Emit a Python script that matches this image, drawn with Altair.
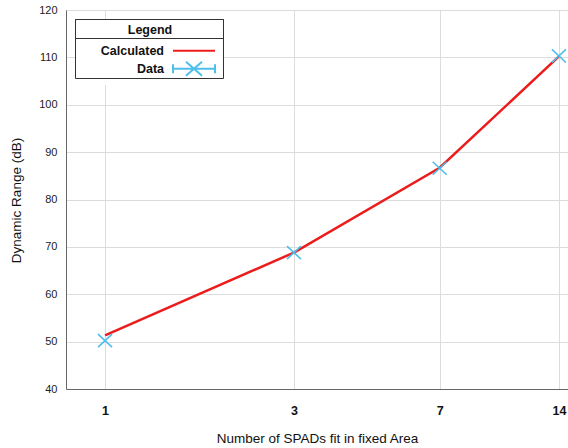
import altair as alt
import pandas as pd

# ---- data ----
spads = [1, 3, 7, 14]
calculated = [51.3, 68.8, 86.7, 110.2]
measured = [50.2, 68.8, 86.6, 110.3]
series_names = ["Calculated", "Data"]
x_ticks = [1, 3, 7, 14]
y_ticks = [40, 50, 60, 70, 80, 90, 100, 110, 120]

RED = "#ec1c1c"
BLUE = "#4dbeee"
FONT = "Liberation Sans"

calc_df = pd.DataFrame({"spads": spads, "dr": calculated, "series": "Calculated"})
data_df = pd.DataFrame({"spads": spads, "dr": measured, "series": "Data"})
both_df = pd.concat([calc_df, data_df], ignore_index=True)

x_enc = alt.X(
    "spads:Q",
    scale=alt.Scale(type="log", domain=[0.797, 14.76], nice=False),
    axis=alt.Axis(
        values=x_ticks, format="d", title="Number of SPADs fit in fixed Area",
        labelFontSize=12.5, labelFontWeight="bold", labelFont=FONT, labelColor="#111",
        labelPadding=15, labelFlush=False, tickSize=0,
        grid=True, gridColor="#dcdcdc", domainColor="#666",
        titleFont=FONT, titleFontSize=13.5, titleFontWeight="normal", titleColor="#111",
        titleY=49, titleBaseline="middle",
    ),
)
y_enc = alt.Y(
    "dr:Q",
    scale=alt.Scale(domain=[40, 120], nice=False, zero=False),
    axis=alt.Axis(
        values=y_ticks, title="Dynamic Range (dB)",
        labelFontSize=11, labelFont=FONT, labelColor="#222", labelPadding=9, tickSize=0,
        grid=True, gridColor="#dcdcdc", domainColor="#666",
        titleFont=FONT, titleFontSize=13.5, titleFontWeight="normal", titleColor="#111",
        titleX=-50, titleY=190, titleAngle=270, titleBaseline="middle", titleAlign="center",
    ),
)

line = alt.Chart(calc_df).mark_line(color=RED, strokeWidth=2.5).encode(x=x_enc, y=y_enc)

XPATH = "M-1,-0.93L1,0.93M-1,0.93L1,-0.93"
points = alt.Chart(data_df).mark_point(
    shape=XPATH, size=196, filled=False, color=BLUE, strokeWidth=1.6, opacity=1
).encode(x=x_enc, y=y_enc)

# legend symbols (path units are pixels since symbolSize = 4)
LINE_SYM = "M86.75,0L128.75,0"
ERR_SYM = ("M86.75,0L128.75,0M86.75,-4.5L86.75,4.5M128.75,-4.5L128.75,4.5"
           "M99.75,-7L115.75,7M99.75,7L115.75,-7")

main_legend = alt.Legend(
    title="Legend", orient="none", legendX=9, legendY=9, direction="vertical",
    fillColor="white", padding=5,
    titleAnchor="middle", titleFont=FONT, titleFontSize=12.5, titleFontWeight="bold",
    titleColor="#111", titlePadding=8,
    labelFont=FONT, labelFontSize=12.5, labelFontWeight="bold", labelColor="#111",
    labelAlign="right", labelOffset=71.5,
    symbolSize=4, symbolStrokeWidth=2, symbolOffset=0, rowPadding=0,
)


def box_legend(key, w, h):
    # an empty legend whose invisible symbol spans w x h pixels: only its frame shows
    return alt.Legend(
        title=None, values=[key], orient="none", legendX=9, legendY=9,
        strokeColor="#333", padding=0, labelExpr="''", labelFontSize=1, labelOffset=0,
        symbolType=f"M-1,-1L{w - 1},{h - 1}", symbolSize=4, symbolStrokeWidth=0,
        symbolOpacity=0, symbolFillColor="transparent", symbolStrokeColor="transparent",
        symbolOffset=0,
    )


frame_legend = box_legend("frame", 148, 59)   # outer frame of the legend
sep_legend = box_legend("sep", 148, 19)       # box round the title: the line under "Legend"

legend_layer = alt.Chart(both_df).transform_filter("false").mark_point(
    filled=False, size=4, opacity=1
).encode(
    x=x_enc, y=y_enc,
    color=alt.Color("series:N", scale=alt.Scale(domain=series_names, range=[RED, BLUE]), legend=main_legend),
    shape=alt.Shape("series:N", scale=alt.Scale(domain=series_names, range=[LINE_SYM, ERR_SYM]), legend=main_legend),
    opacity=alt.Opacity("series:O", scale=alt.Scale(domain=["frame"], range=[0, 0]), legend=frame_legend),
    strokeDash=alt.StrokeDash("series:O", scale=alt.Scale(domain=["sep"], range=[[1, 0]]), legend=sep_legend),
)

chart = alt.layer(line, points, legend_layer).properties(
    width=502, height=379,
    padding={"left": 66, "top": 10, "right": 0, "bottom": 59},
    autosize=alt.AutoSizeParams(type="none"),
).configure_view(stroke="#555", strokeWidth=1).configure(background="white")

chart.save("out.html", embed_options={"renderer": "svg", "actions": False})
